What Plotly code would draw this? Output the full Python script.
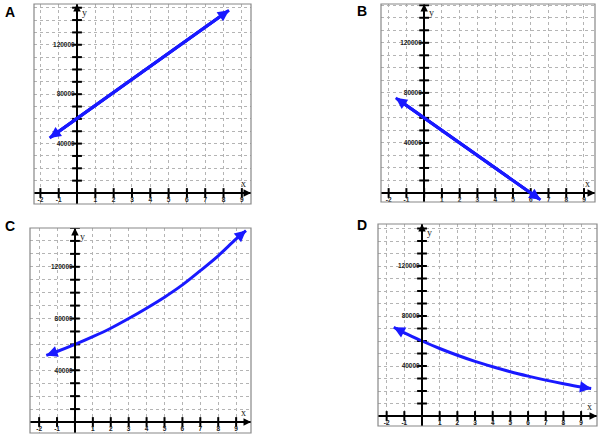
import numpy as np
import plotly.graph_objects as go

# ---- data ----
x_a = [-1.5, 8.3]
y_a = [44500, 148000]

x_b = [-1.6, 6.55]
y_b = [76000, -5500]

x_c = [-1.6, -1, 0, 1, 2, 3, 4, 5, 6, 7, 8, 9, 9.55]
y_c = [51500, 54500, 60000, 66000, 72500, 80000, 88000, 96500, 106000, 117000, 128500, 141500, 148000]

x_d = [-1.6, -1, 0, 1, 2, 3, 4, 5, 6, 7, 8, 9, 9.57]
y_d = [71000, 66500, 60000, 54000, 48600, 43700, 39400, 35400, 31900, 28700, 25800, 23200, 22000]

panel_letters = ["A", "B", "C", "D"]
x_ticklabels = ["-2", "-1", "1", "2", "3", "4", "5", "6", "7", "8", "9"]
y_ticklabels = ["40000", "80000", "120000"]

W, H = 600, 438
BLUE = "rgb(25,25,255)"

# panel frames in pixels (left, right, top, bottom) and data ranges
panels = [
    dict(px=(34, 251, 4, 204), xr=[-2.35, 9.5], yr=[-8900, 153000], x=x_a, y=y_a, shape="linear"),
    dict(px=(381, 595, 4, 202), xr=[-2.43, 9.62], yr=[-7200, 151000], x=x_b, y=y_b, shape="linear"),
    dict(px=(30, 251, 228, 433), xr=[-2.51, 9.83], yr=[-8500, 150000], x=x_c, y=y_c, shape="spline"),
    dict(px=(378, 597, 224, 426), xr=[-2.49, 9.9], yr=[-8000, 153600], x=x_d, y=y_d, shape="spline"),
]
letter_px = [(10, 12), (362, 11), (10, 226), (362, 225)]

x_tickvals = [float(t) for t in x_ticklabels]
y_tickvals = [float(t) for t in y_ticklabels]
x_marks = np.arange(-2, 10)
y_marks = np.arange(10000, 150001, 10000)

fig = go.Figure()
annotations = []
shapes = []
layout = {}
tickfont = dict(size=6.5, color="#222", family="Liberation Sans", weight="bold")
namefont = dict(family="Liberation Serif", size=10, color="#222")

for i, p in enumerate(panels):
    n = "" if i == 0 else str(i + 1)
    xa, ya = "x" + n, "y" + n
    l, r, t, b = p["px"]
    dx = [l / W, r / W]
    dy = [1 - b / H, 1 - t / H]
    x0, x1 = p["xr"]
    y0, y1 = p["yr"]
    # paper position of the zero lines
    pos_x = dy[0] + (0 - y0) / (y1 - y0) * (dy[1] - dy[0])
    pos_y = dx[0] + (0 - x0) / (x1 - x0) * (dx[1] - dx[0])

    grid = dict(showgrid=True, gridcolor="#b4b4b4", griddash="dot", gridwidth=1)
    layout["xaxis" + n] = dict(
        domain=dx, range=p["xr"], anchor="free", position=pos_x,
        tickvals=x_tickvals, ticktext=x_ticklabels, ticks="",
        showline=True, linecolor="black", linewidth=2, zeroline=False,
        tickfont=tickfont, minor=dict(dtick=1, tick0=0, **grid), fixedrange=True, **grid)
    layout["yaxis" + n] = dict(
        domain=dy, range=p["yr"], anchor="free", position=pos_y,
        tickvals=y_tickvals, ticktext=y_ticklabels, ticks="",
        showline=True, linecolor="black", linewidth=2, zeroline=False,
        tickfont=tickfont, minor=dict(dtick=10000, tick0=0, **grid), fixedrange=True, **grid)

    # frame
    shapes.append(dict(type="rect", xref=xa + " domain", yref=ya + " domain",
                       x0=0, x1=1, y0=0, y1=1, line=dict(color="#888", width=1.2)))

    # tick marks crossing the axes
    fig.add_trace(go.Scatter(x=np.zeros(len(y_marks)), y=y_marks, xaxis=xa, yaxis=ya,
                             mode="markers", hoverinfo="skip",
                             marker=dict(symbol="line-ew-open", size=7, color="black",
                                         line=dict(color="black", width=2))))
    fig.add_trace(go.Scatter(x=x_marks, y=np.zeros(len(x_marks)), xaxis=xa, yaxis=ya,
                             mode="markers", hoverinfo="skip",
                             marker=dict(symbol="line-ns-open", size=7, color="black",
                                         line=dict(color="black", width=2))))

    # the curve
    fig.add_trace(go.Scatter(x=p["x"], y=p["y"], xaxis=xa, yaxis=ya, mode="lines",
                             line=dict(color=BLUE, width=3, shape=p["shape"])))

    # arrowheads on both ends of the curve
    for end, prev in ((-1, -2), (0, 1)):
        annotations.append(dict(
            x=p["x"][end], y=p["y"][end], ax=p["x"][prev], ay=p["y"][prev],
            xref=xa, yref=ya, axref=xa, ayref=ya, text="", showarrow=True,
            arrowhead=2, arrowsize=0.75, arrowwidth=3, arrowcolor=BLUE, standoff=0))

    # axis arrows
    annotations.append(dict(x=x1, y=0, xref=xa, yref=ya, ax=-10, ay=0, text="",
                            showarrow=True, arrowhead=2, arrowsize=1, arrowwidth=1.5,
                            arrowcolor="black"))
    annotations.append(dict(x=0, y=y1, xref=xa, yref=ya, ax=0, ay=10, text="",
                            showarrow=True, arrowhead=2, arrowsize=1, arrowwidth=1.5,
                            arrowcolor="black"))
    # axis names
    annotations.append(dict(x=1, y=0, xref=xa + " domain", yref=ya, text="x",
                            showarrow=False, xanchor="right", yanchor="bottom",
                            xshift=-3, yshift=2, font=namefont))
    annotations.append(dict(x=0, y=1, xref=xa, yref=ya + " domain", text="y",
                            showarrow=False, xanchor="left", yanchor="top",
                            xshift=3, yshift=-1, font=namefont))
    # panel letter
    lx, ly = letter_px[i]
    annotations.append(dict(x=lx / W, y=1 - ly / H, xref="paper", yref="paper",
                            text="<b>" + panel_letters[i] + "</b>", showarrow=False,
                            xanchor="center", yanchor="middle",
                            font=dict(family="Liberation Sans", size=14, color="black")))

fig.update_layout(width=W, height=H, margin=dict(l=0, r=0, t=0, b=0),
                  paper_bgcolor="white", plot_bgcolor="white", showlegend=False,
                  annotations=annotations, shapes=shapes, **layout)

fig.write_html("out.html", config={"displayModeBar": False},
               post_script="document.body.style.margin='0';")
